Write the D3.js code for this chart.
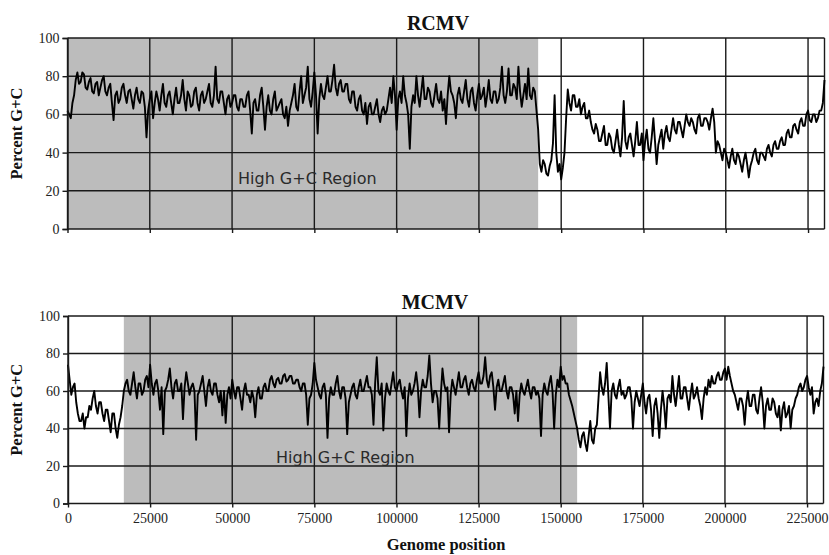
<!DOCTYPE html>
<html>
<head>
<meta charset="utf-8">
<script src="https://cdn.jsdelivr.net/npm/d3@7"></script>
<style>
  html, body { margin: 0; padding: 0; background: #fff; }
  svg { display: block; }
</style>
</head>
<body>
<svg id="chart" width="829" height="555"></svg>
<script>
// ---------- DATA ----------
const positionStep = 500; // bp between successive window values
const yTicks = [0, 20, 40, 60, 80, 100];
const xTicks = [0, 25000, 50000, 75000, 100000, 125000, 150000, 175000, 200000, 225000];
const genomeMax = 230000;

const rcmvTitle = "RCMV";
const mcmvTitle = "MCMV";
const regionLabel = "High G+C Region";
const yLabel = "Percent G+C";
const xLabel = "Genome position";

const rcmvHighGC = [0, 143000];
const mcmvHighGC = [17000, 155000];

// Percent G+C, one value every 500 bp (10 kb per row)
const rcmvGC = [
  62,60, 58,66, 70,78, 82,76, 77,82, 81,74, 73,77, 79,72, 71,76, 77,70,
  74,78, 80,72, 70,74, 76,66, 57,70, 72,66, 68,74, 76,70, 66,72, 73,68,
  63,70, 74,68, 66,72, 71,64, 48,62, 68,72, 58,66, 72,68, 62,70, 76,66,
  64,70, 72,66, 60,68, 74,66, 66,70, 78,68, 62,72, 70,64, 65,72, 74,66,
  62,70, 72,66, 68,72, 76,66, 64,70, 85,68, 66,72, 72,66, 60,68, 70,64,
  66,70, 70,64, 62,68, 68,64, 64,70, 72,62, 50,66, 68,62, 62,70, 74,64,
  52,64, 70,62, 60,68, 72,62, 64,66, 68,60, 58,64, 54,62, 66,70, 76,64,
  62,72, 80,66, 70,74, 85,68, 64,72, 82,70, 50,68, 76,70, 68,74, 80,72,
  72,78, 86,74, 70,76, 78,72, 72,76, 76,68, 66,72, 72,64, 62,68, 70,62,
  60,66, 55,64, 66,60, 60,64, 68,60, 56,62, 64,60, 62,68, 74,66, 80,70,
  52,68, 72,66, 80,70, 66,60, 42,64, 70,66, 80,70, 64,72, 80,68, 68,74,
  72,66, 64,70, 76,68, 66,72, 62,68, 55,70, 80,72, 70,66, 58,70, 74,68,
  66,72, 78,68, 64,72, 74,66, 62,70, 76,68, 70,74, 64,70, 78,68, 66,72,
  72,66, 68,74, 85,70, 66,72, 84,70, 70,76, 74,68, 85,72, 64,70, 76,68,
  84,70, 68,74, 72,62, 52,34, 30,36, 34,29, 28,33, 36,45, 70,40, 30,34,
  26,32, 40,58, 73,66, 62,70, 70,64, 64,68, 60,64, 66,58, 58,62, 56,52,
  50,55, 52,46, 46,50, 54,44, 44,50, 48,42, 40,46, 52,44, 38,48, 67,46,
  42,48, 50,44, 38,46, 56,44, 44,50, 36,46, 52,42, 40,48, 58,46, 34,44,
  48,52, 42,50, 54,48, 46,52, 58,52, 50,56, 56,52, 48,54, 60,56, 54,58,
  56,52, 50,58, 60,54, 54,58, 58,56, 52,58, 63,56, 40,46, 44,40, 36,42,
  40,36, 32,38, 42,36, 34,40, 38,34, 30,36, 40,34, 27,33, 36,40, 42,36,
  34,40, 40,38, 36,42, 44,40, 38,44, 46,42, 42,46, 48,44, 44,50, 52,48,
  48,54, 55,52, 50,56, 58,54, 54,60, 62,57, 56,60, 60,56, 58,62, 62,66,
  78
];

const mcmvGC = [
  74,66, 58,62, 64,54, 48,44, 44,48, 40,46, 46,52, 50,56, 60,52, 48,54,
  54,48, 44,50, 50,44, 38,48, 48,40, 35,42, 46,52, 60,64, 66,60, 58,64,
  70,62, 56,64, 64,58, 60,66, 68,62, 74,64, 58,64, 66,60, 50,62, 37,60,
  62,66, 72,62, 56,64, 66,60, 60,64, 45,62, 70,64, 58,62, 64,60, 34,58,
  60,64, 68,60, 52,62, 66,60, 58,64, 64,58, 54,60, 47,60, 43,58, 62,56,
  66,60, 56,62, 62,56, 50,60, 64,58, 58,54, 60,56, 46,58, 62,56, 56,62,
  64,60, 60,66, 68,64, 62,66, 67,64, 64,68, 69,65, 66,68, 68,64, 64,66,
  66,62, 60,64, 64,58, 42,56, 58,64, 75,66, 62,58, 56,62, 64,58, 35,56,
  62,58, 58,64, 68,60, 56,62, 62,56, 37,54, 58,62, 64,58, 56,62, 66,60,
  60,64, 68,62, 62,58, 42,64, 78,60, 58,64, 39,56, 64,60, 58,64, 70,62,
  60,64, 66,60, 56,62, 36,56, 64,58, 60,64, 70,62, 46,60, 66,62, 62,68,
  79,64, 54,60, 60,56, 40,58, 72,64, 60,62, 38,58, 66,62, 58,64, 70,62,
  62,66, 68,62, 58,64, 66,62, 60,66, 70,64, 64,68, 78,66, 62,68, 70,62,
  50,62, 66,60, 60,64, 68,60, 56,62, 62,58, 48,60, 44,58, 64,60, 58,62,
  66,60, 56,62, 62,58, 60,56, 36,58, 64,60, 58,64, 68,60, 40,58, 66,62,
  73,66, 68,64, 64,58, 55,52, 48,44, 40,34, 30,36, 38,32, 28,36, 44,34,
  32,40, 42,56, 70,62, 58,64, 75,58, 40,60, 64,58, 56,62, 66,58, 60,56,
  58,62, 62,56, 40,54, 60,56, 52,58, 64,54, 48,56, 58,50, 36,52, 56,48,
  35,50, 60,52, 40,56, 58,54, 68,58, 52,60, 68,56, 56,62, 62,56, 50,58,
  64,56, 58,62, 56,52, 45,56, 62,58, 66,62, 68,64, 64,68, 70,66, 66,70,
  72,66, 73,68, 64,60, 58,54, 50,56, 56,52, 42,54, 60,52, 52,58, 58,50,
  48,56, 62,54, 40,52, 56,50, 50,56, 54,48, 46,52, 39,50, 54,46, 48,52,
  40,50, 52,56, 58,62, 64,60, 62,66, 68,62, 58,62, 48,54, 56,52, 60,64,
  73
];

// ---------- DRAW ----------
const svg = d3.select("#chart");
const serif = "'Liberation Serif', 'Times New Roman', serif";
const sans = "'DejaVu Sans', Verdana, sans-serif";

function panel(opts) {
  const x = d3.scaleLinear().domain([0, genomeMax]).range(opts.xr);
  const y = d3.scaleLinear().domain([0, 100]).range(opts.yr);
  const g = svg.append("g");

  // shaded high G+C region
  g.append("rect")
    .attr("x", x(opts.shade[0]))
    .attr("y", y(100))
    .attr("width", x(opts.shade[1]) - x(opts.shade[0]))
    .attr("height", y(0) - y(100))
    .attr("fill", "#bcbcbc");

  // horizontal gridlines
  g.selectAll("line.hg").data(yTicks).enter().append("line")
    .attr("x1", x(0)).attr("x2", x(genomeMax))
    .attr("y1", d => y(d)).attr("y2", d => y(d))
    .attr("stroke", "#1a1a1a").attr("stroke-width", 1.4);

  // vertical gridlines
  g.selectAll("line.vg").data(xTicks).enter().append("line")
    .attr("x1", d => x(d)).attr("x2", d => x(d))
    .attr("y1", y(0)).attr("y2", y(100))
    .attr("stroke", "#1a1a1a").attr("stroke-width", 1.4);
  g.append("line")
    .attr("x1", x(genomeMax)).attr("x2", x(genomeMax))
    .attr("y1", y(0)).attr("y2", y(100))
    .attr("stroke", "#1a1a1a").attr("stroke-width", 1.4);

  // region label
  g.append("text")
    .attr("x", opts.regionX).attr("y", opts.regionY)
    .attr("font-family", sans).attr("font-size", 16)
    .attr("fill", "#2a2a2a")
    .text(regionLabel);

  // data line
  const line = d3.line()
    .x((d, i) => x(i * positionStep))
    .y(d => y(d));
  g.append("path")
    .datum(opts.data)
    .attr("d", line)
    .attr("fill", "none")
    .attr("stroke", "#000")
    .attr("stroke-width", 1.9)
    .attr("stroke-linejoin", "round");

  // y axis
  const ya = g.append("g")
    .attr("transform", `translate(${x(0)},0)`)
    .call(d3.axisLeft(y).tickValues(yTicks).tickSize(5).tickPadding(3));
  ya.select(".domain").attr("stroke", "#1a1a1a").attr("stroke-width", 1.4);
  ya.selectAll(".tick line").attr("stroke", "#1a1a1a").attr("stroke-width", 1.4);
  ya.selectAll(".tick text")
    .attr("font-family", serif).attr("font-size", 14).attr("fill", "#222");

  // x axis
  const xa = g.append("g")
    .attr("transform", `translate(0,${y(0)})`)
    .call(d3.axisBottom(x).tickValues(xTicks).tickSize(4).tickPadding(6)
      .tickFormat(d => opts.showXLabels ? d3.format("d")(d) : ""));
  xa.select(".domain").remove();
  xa.selectAll(".tick line").attr("stroke", "#1a1a1a").attr("stroke-width", 1.4);
  xa.selectAll(".tick text")
    .attr("font-family", serif).attr("font-size", 14).attr("fill", "#222");

  // title
  svg.append("text")
    .attr("x", opts.titleX).attr("y", opts.titleY)
    .attr("text-anchor", "middle")
    .attr("font-family", serif).attr("font-weight", "bold")
    .attr("font-size", 20).attr("fill", "#111")
    .text(opts.title);

  // y label
  svg.append("text")
    .attr("transform", `translate(22,${(y(0) + y(100)) / 2}) rotate(-90)`)
    .attr("text-anchor", "middle")
    .attr("font-family", serif).attr("font-weight", "bold")
    .attr("font-size", 16.5).attr("fill", "#111")
    .text(yLabel);
}

panel({
  data: rcmvGC, shade: rcmvHighGC, xr: [67.5, 824.5], yr: [229, 38],
  title: rcmvTitle, titleX: 438, titleY: 30,
  regionX: 238, regionY: 184, showXLabels: false
});

panel({
  data: mcmvGC, shade: mcmvHighGC, xr: [68, 823.5], yr: [503.5, 316],
  title: mcmvTitle, titleX: 435, titleY: 309,
  regionX: 276, regionY: 463, showXLabels: true
});

svg.append("text")
  .attr("x", 446).attr("y", 550)
  .attr("text-anchor", "middle")
  .attr("font-family", serif).attr("font-weight", "bold")
  .attr("font-size", 16.5).attr("fill", "#111")
  .text(xLabel);
</script>
</body>
</html>
